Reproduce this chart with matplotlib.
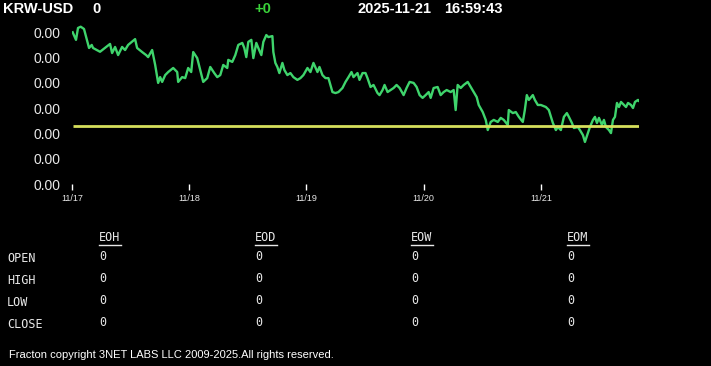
import matplotlib
matplotlib.use('Agg')
import matplotlib.pyplot as plt
import matplotlib.dates as mdates
import numpy as np
import pandas as pd

# header
symbol = 'KRW-USD'
last_price = '0'
change = '+0'
stamp_date = '2025-11-21'
stamp_time = '16:59:43'

# intraday series: hours since 2025-11-17 00:00 and rate (x 1e-6)
hours = [0.14, 0.82, 1.23, 1.78, 2.46, 3.49, 4.04, 4.31, 5.74, 7.79, 8.21, 8.82, 9.44, 10.26,
         10.87, 11.49, 12.92, 13.33, 14.36, 15.18, 15.59, 16.41, 17.03, 17.64, 18.05, 18.46,
         19.08, 19.69, 20.72, 21.54, 21.74, 22.56, 23.18, 23.79, 24.41, 24.82, 25.64, 26.26,
         26.87, 27.69, 28.31, 29.13, 29.74, 30.36, 30.97, 31.79, 32.0, 32.82, 33.44, 34.05,
         34.87, 35.28, 35.69, 36.10, 36.72, 37.13, 37.74, 38.15, 38.77, 39.18, 39.79, 40.21,
         41.03, 41.23, 41.64, 42.05, 42.46, 43.08, 43.49, 44.10, 44.72, 45.33, 46.15, 46.77,
         47.38, 48.21, 48.82, 49.44, 50.26, 50.67, 51.28, 51.90, 52.51, 53.33, 53.95, 54.56,
         55.38, 56.0, 56.62, 57.23, 57.64, 58.46, 58.87, 59.49, 60.10, 60.51, 61.13, 61.74,
         62.56, 62.97, 63.59, 64.0, 64.62, 65.23, 65.85, 66.46, 67.08, 67.90, 68.51, 69.13,
         69.95, 70.56, 71.18, 71.79, 72.41, 73.03, 73.44, 74.05, 74.87, 75.49, 76.10, 76.72,
         77.54, 78.15, 78.56, 78.97, 79.59, 80.21, 81.03, 81.64, 82.26, 82.87, 83.28, 84.10,
         84.72, 85.13, 85.74, 86.36, 87.18, 87.79, 88.41, 89.23, 89.44, 90.26, 90.87, 91.49,
         92.31, 92.72, 93.13, 93.54, 94.36, 94.77, 95.38, 96.0, 97.03, 97.64, 98.46, 99.08,
         99.49, 100.10, 100.72, 101.33, 101.74, 102.36, 102.77, 103.59, 104.0, 104.62, 105.03,
         105.64, 106.05, 106.67, 107.08, 107.49, 107.90, 108.51, 108.92, 109.33, 109.95,
         110.36, 110.77, 111.18, 111.59, 112.0, 112.41, 113.03, 113.44, 113.85, 114.46,
         114.87, 115.28, 115.90, 116.10]
rate_e6 = [679.99, 679.69, 680.16, 680.21, 680.12, 679.37, 679.49, 679.37, 679.22, 679.53,
           679.17, 679.41, 679.09, 679.41, 679.29, 679.49, 679.72, 679.37, 679.21, 679.09,
           679.01, 679.29, 678.70, 677.99, 678.22, 678.03, 678.30, 678.42, 678.58, 678.42,
           678.03, 678.22, 678.18, 678.58, 678.42, 679.21, 678.97, 678.50, 678.03, 678.18,
           678.62, 678.38, 678.22, 678.30, 678.70, 678.58, 678.90, 678.82, 679.09, 679.49,
           679.57, 679.37, 679.01, 679.61, 679.69, 678.97, 679.57, 679.37, 679.09, 679.61,
           679.88, 679.80, 679.84, 679.21, 678.78, 678.62, 678.38, 678.78, 678.50, 678.30,
           678.38, 678.22, 678.11, 678.18, 678.30, 678.58, 678.42, 678.78, 678.42, 678.62,
           678.30, 678.18, 678.18, 677.63, 677.59, 677.63, 677.79, 678.03, 678.22, 678.42,
           678.22, 678.38, 678.11, 678.38, 678.38, 678.18, 677.83, 677.91, 677.59, 677.51,
           677.71, 677.91, 677.63, 677.71, 677.79, 677.91, 677.79, 677.51, 677.79, 678.03,
           677.99, 677.83, 677.51, 677.40, 677.51, 677.63, 677.40, 677.79, 677.83, 677.51,
           677.63, 677.71, 677.63, 677.71, 676.92, 677.91, 677.79, 677.91, 678.03, 677.83,
           677.63, 677.43, 677.12, 676.84, 676.53, 676.13, 676.45, 676.53, 676.45, 676.61,
           676.53, 676.33, 676.92, 676.80, 676.84, 676.65, 676.45, 676.92, 677.51, 677.32,
           677.51, 677.32, 677.12, 677.12, 677.04, 676.92, 676.41, 676.13, 676.25, 676.13,
           676.65, 676.80, 676.65, 676.41, 676.21, 676.25, 676.13, 675.93, 675.66, 676.01,
           676.25, 676.53, 676.65, 676.41, 676.61, 676.33, 676.53, 676.25, 676.13, 676.01,
           676.53, 676.65, 677.20, 677.04, 677.24, 677.12, 677.04, 677.20, 677.12, 677.00,
           677.24, 677.32, 677.28]
prev_close_e6 = 676.29
y_ticks_e6 = [674, 675, 676, 677, 678, 679, 680]
y_top_e6 = 680.5

# summary table
row_labels = ['OPEN', 'HIGH', 'LOW', 'CLOSE']
col_labels = ['EOH', 'EOD', 'EOW', 'EOM']
table_vals = [['0', '0', '0', '0'],
              ['0', '0', '0', '0'],
              ['0', '0', '0', '0'],
              ['0', '0', '0', '0']]

footer = 'Fracton copyright 3NET LABS LLC 2009-2025.All rights reserved.'

start = pd.Timestamp('2025-11-17')
times = start + pd.to_timedelta(hours, unit='h')
rates = np.array(rate_e6) * 1e-6
prev_close = prev_close_e6 * 1e-6

W, H = 711, 366
fig = plt.figure(figsize=(W / 100, H / 100), dpi=100, facecolor='black')

def fx(px):
    return px / W

def fy(py):
    return 1 - py / H

# plot area: bottom tick at y=184 px, one tick step = 25.33 px
top_px = 184 - (y_top_e6 - y_ticks_e6[0]) * 25.33
ax = fig.add_axes([fx(72), fy(184), fx(639) - fx(72), fy(top_px) - fy(184)])
ax.set_facecolor('black')
ax.plot(times, rates, color='#3fd46c', linewidth=1.7)
ax.hlines(prev_close, times[0], times[-1], color='#d6df5c', linewidth=2)

ax.set_xlim(start, times[-1])
ax.set_ylim(y_ticks_e6[0] * 1e-6, y_top_e6 * 1e-6)
ax.set_yticks(np.array(y_ticks_e6) * 1e-6)
ax.yaxis.set_major_formatter(matplotlib.ticker.FormatStrFormatter('%.2f'))
ax.xaxis.set_major_locator(mdates.DayLocator())
ax.xaxis.set_major_formatter(mdates.DateFormatter('%m/%d'))
for s in ax.spines.values():
    s.set_visible(False)
ax.tick_params(axis='y', length=0, pad=8, labelcolor='#e8e8e8', labelsize=10)
ax.tick_params(axis='x', length=4, width=1, color='white', pad=3,
               labelcolor='#e8e8e8', labelsize=6.5, direction='out')
for lab in ax.get_yticklabels() + ax.get_xticklabels():
    lab.set_fontfamily('Liberation Sans')

# header
hdr = dict(color='white', fontsize=10.5, fontweight='bold', family='Liberation Sans', va='center')
fig.text(fx(3), fy(9), symbol, **hdr)
fig.text(fx(92), fy(9), last_price, **hdr)
fig.text(fx(254), fy(9), change, **{**hdr, 'color': '#3ad23a'})
fig.text(fx(357), fy(9), stamp_date, **hdr)
fig.text(fx(444), fy(9), stamp_time, **hdr)

# table
mono = dict(color='#e8e8e8', fontsize=8.5, family='DejaVu Sans Mono', va='center')
col_x = [99, 255, 411, 567]
row_y = [259, 281, 303, 324]
for cx, name in zip(col_x, col_labels):
    fig.text(fx(cx), fy(238), name, **mono)
    fig.add_artist(plt.Line2D([fx(cx), fx(cx + 22)], [fy(245), fy(245)],
                              color='#e8e8e8', linewidth=1))
for ry, name, vals in zip(row_y, row_labels, table_vals):
    fig.text(fx(7), fy(ry), name, **mono)
    for cx, v in zip(col_x, vals):
        fig.text(fx(cx), fy(ry - 2), v, **mono)

fig.text(fx(9), fy(355), footer, color='white', fontsize=8,
         family='Liberation Sans', va='center')

fig.savefig('out.png', dpi=100, facecolor='black')
